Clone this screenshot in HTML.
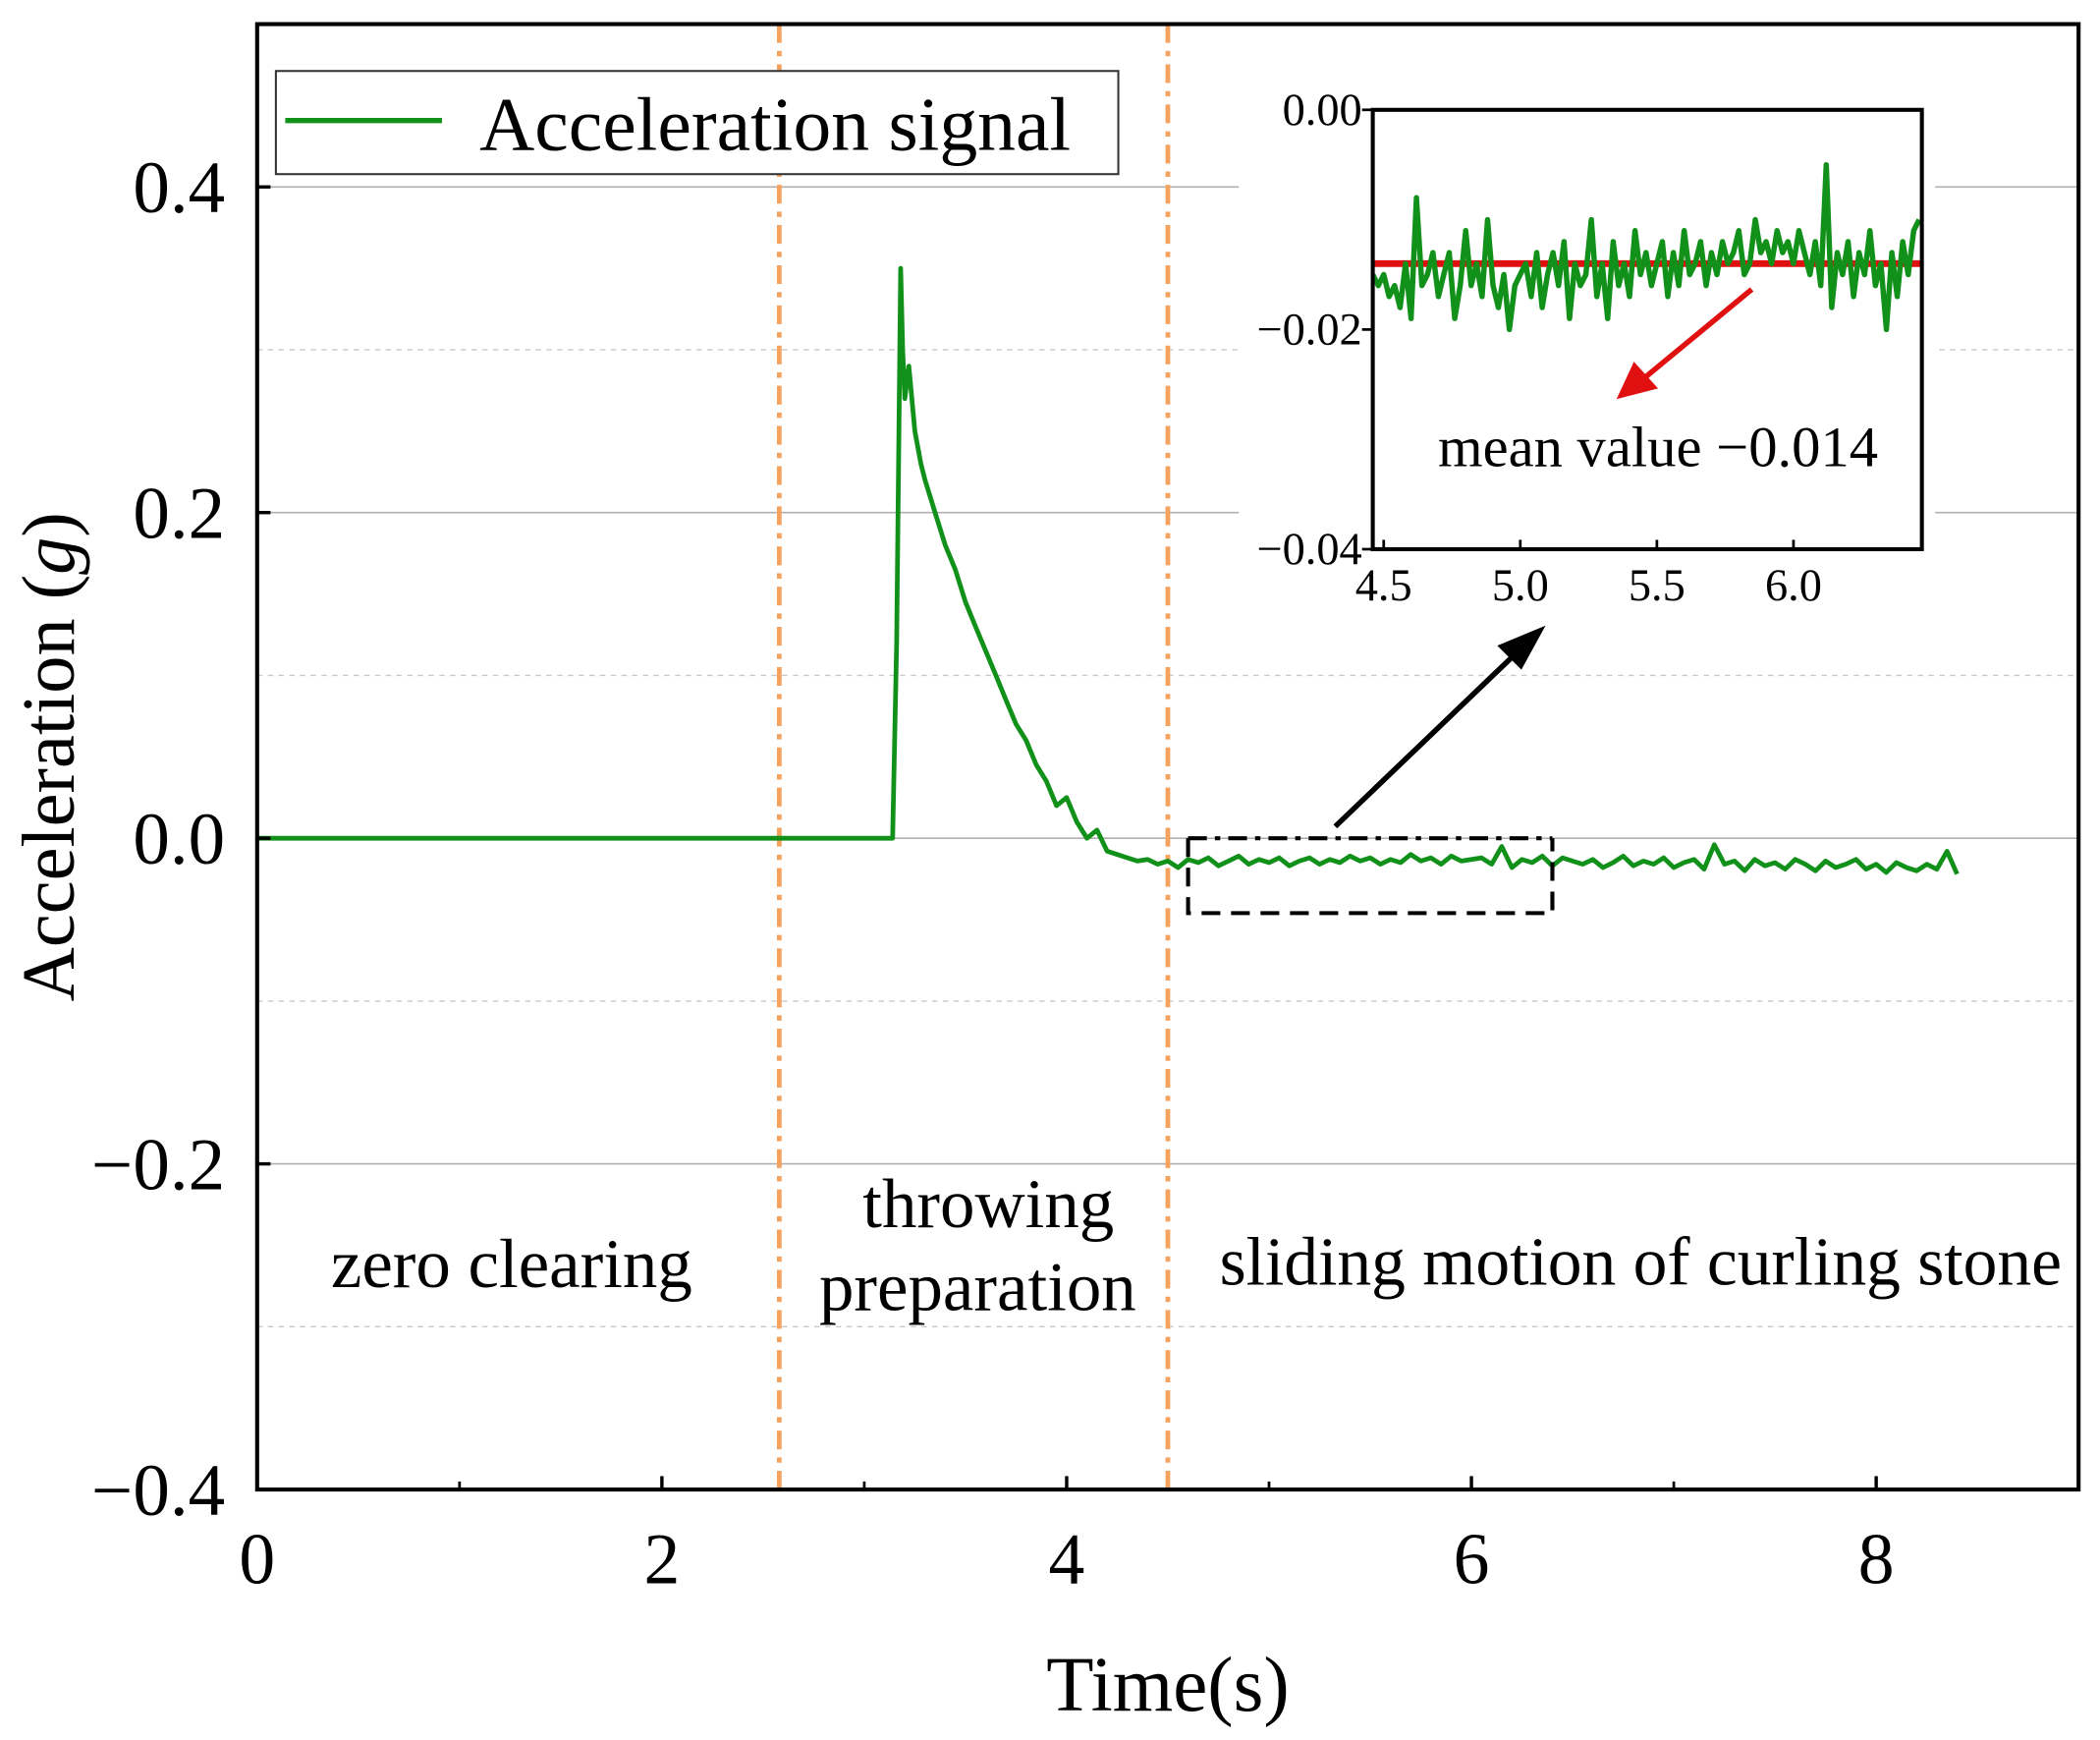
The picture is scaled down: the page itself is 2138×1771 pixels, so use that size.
<!DOCTYPE html>
<html><head><meta charset="utf-8"><style>
html,body{margin:0;padding:0;background:#fff}
svg{display:block}
text{font-family:"Liberation Serif",serif;fill:#000}
</style></head><body>
<svg id="chart" width="2138" height="1771" viewBox="0 0 1568 1299" preserveAspectRatio="none" xmlns="http://www.w3.org/2000/svg">
<g id="grid"></g>
<g id="main"></g>
<g id="inset"></g>
</svg>
<script>
const mainTimes=[0,0.5,1,1.5,2,2.5,3,3.14,3.16,3.18,3.19,3.2,3.22,3.25,3.28,3.3,3.35,3.4,3.45,3.5,3.55,3.6,3.65,3.7,3.75,3.8,3.85,3.9,3.95,4.0,4.05,4.1,4.15,4.2,4.25,4.3,4.35,
4.4,4.45,4.5,4.55,4.6,4.65,4.7,4.75,4.8,4.85,4.9,4.95,5.0,5.05,5.1,5.15,5.2,5.25,5.3,5.35,5.4,5.45,5.5,5.55,5.6,5.65,5.7,5.75,5.8,5.85,5.9,5.95,6.0,6.05,6.1,6.15,6.2,6.25,6.3,6.35,6.4,6.45,6.5,6.55,6.6,6.65,6.7,6.75,6.8,6.85,6.9,6.95,7.0,7.05,7.1,7.15,7.2,7.25,7.3,7.35,7.4,7.45,7.5,7.55,7.6,7.65,7.7,7.75,7.8,7.85,7.9,7.95,8.0,8.05,8.1,8.15,8.2,8.25,8.3,8.35,8.4,8.45];
const mainValues=[0,0,0,0,0,0,0,0,0.12,0.35,0.3,0.27,0.29,0.25,0.23,0.22,0.2,0.18,0.165,0.145,0.13,0.115,0.1,0.085,0.07,0.06,0.045,0.035,0.02,0.025,0.01,0.0,0.005,-0.008,-0.01,-0.012,-0.014,
-0.013,-0.016,-0.014,-0.018,-0.013,-0.015,-0.012,-0.017,-0.014,-0.011,-0.016,-0.013,-0.015,-0.012,-0.017,-0.014,-0.012,-0.016,-0.013,-0.015,-0.011,-0.014,-0.012,-0.016,-0.013,-0.015,-0.01,-0.014,-0.012,-0.016,-0.011,-0.014,-0.013,-0.012,-0.016,-0.005,-0.018,-0.013,-0.015,-0.011,-0.017,-0.012,-0.014,-0.016,-0.013,-0.018,-0.015,-0.011,-0.017,-0.014,-0.016,-0.012,-0.018,-0.015,-0.013,-0.019,-0.004,-0.016,-0.014,-0.02,-0.013,-0.017,-0.015,-0.019,-0.013,-0.016,-0.02,-0.014,-0.018,-0.016,-0.013,-0.019,-0.016,-0.021,-0.015,-0.018,-0.02,-0.016,-0.019,-0.008,-0.022];
const xTicks=[0,2,4,6,8];
const yTicks=[0.4,0.2,0.0,-0.2,-0.4];
const yTickLabels=["0.4","0.2","0.0","\u22120.2","\u22120.4"];
const minorY=[0.3,0.1,-0.1,-0.3];
const phaseBounds=[2.58,4.5];
const insetTimes=[4.46,4.48,4.5,4.52,4.54,4.56,4.58,4.6,4.62,4.64,4.66,4.68,4.7,4.72,4.74,4.76,4.78,4.8,4.82,4.84,4.86,4.88,4.9,4.92,4.94,4.96,4.98,5.0,5.02,5.04,5.06,5.08,5.1,5.12,5.14,5.16,5.18,5.2,5.22,5.24,5.26,5.28,5.3,5.32,5.34,5.36,5.38,5.4,5.42,5.44,5.46,5.48,5.5,5.52,5.54,5.56,5.58,5.6,5.62,5.64,5.66,5.68,5.7,5.72,5.74,5.76,5.78,5.8,5.82,5.84,5.86,5.88,5.9,5.92,5.94,5.96,5.98,6.0,6.02,6.04,6.06,6.08,6.1,6.12,6.14,6.16,6.18,6.2,6.22,6.24,6.26,6.28,6.3,6.32,6.34,6.36,6.38,6.4,6.42,6.44,6.46];
const insetValues=[-0.015,-0.016,-0.015,-0.017,-0.016,-0.018,-0.014,-0.019,-0.008,-0.016,-0.015,-0.013,-0.017,-0.015,-0.013,-0.019,-0.016,-0.011,-0.016,-0.014,-0.017,-0.01,-0.016,-0.018,-0.015,-0.02,-0.016,-0.015,-0.014,-0.017,-0.013,-0.018,-0.015,-0.013,-0.016,-0.012,-0.019,-0.014,-0.016,-0.015,-0.01,-0.017,-0.014,-0.019,-0.012,-0.016,-0.014,-0.017,-0.011,-0.015,-0.013,-0.016,-0.014,-0.012,-0.017,-0.013,-0.016,-0.011,-0.015,-0.014,-0.012,-0.016,-0.013,-0.015,-0.012,-0.014,-0.013,-0.011,-0.015,-0.014,-0.01,-0.013,-0.012,-0.014,-0.011,-0.013,-0.012,-0.014,-0.011,-0.013,-0.015,-0.012,-0.016,-0.005,-0.018,-0.013,-0.015,-0.012,-0.017,-0.013,-0.015,-0.011,-0.016,-0.014,-0.02,-0.013,-0.017,-0.012,-0.015,-0.011,-0.01];
const insetMean=-0.014;
const insetXTicks=[4.5,5.0,5.5,6.0];
const insetYTicks=[0,-0.02,-0.04];
const insetYLabels=["0.00","\u22120.02","\u22120.04"];

const NS="http://www.w3.org/2000/svg";
function mk(parent,tag,attrs,name,text){const e=document.createElementNS(NS,tag);for(const k in attrs)e.setAttribute(k,attrs[k]);


if(text!==undefined)e.textContent=text;parent.appendChild(e);return e;}
const L=192,R=1552,T=18,B=1112;
const xs=v=>L+(v-0)/9*(R-L);
const ys=v=>T+(0.5-v)/(0.5+0.4)*(B-T);
const grid=document.getElementById('grid'),main=document.getElementById('main'),ins=document.getElementById('inset');
yTicks.forEach(v=>{if(v>-0.4)mk(grid,'line',{x1:L,x2:R,y1:ys(v),y2:ys(v),stroke:'#b0b0b0','stroke-width':1.2},'major-gridline');});
minorY.forEach(v=>mk(grid,'line',{x1:L,x2:R,y1:ys(v),y2:ys(v),stroke:'#c8c8c8','stroke-width':1,'stroke-dasharray':'4 4'},'minor-gridline'));
phaseBounds.forEach(v=>mk(main,'line',{x1:xs(v),x2:xs(v),y1:T,y2:B,stroke:'#f5a25f','stroke-width':3.5,'stroke-dasharray':'14 6 4 6'},'phase-boundary'));
mk(main,'path',{d:mainTimes.map((t,i)=>(i?'L':'M')+xs(t).toFixed(1)+','+ys(mainValues[i]).toFixed(1)).join(''),fill:'none',stroke:'#11901a','stroke-width':3.5,'stroke-linejoin':'round'},'acceleration-line');
const bx1=xs(4.6),bx2=xs(4.6+1.8),by1=ys(0),by2=ys(-0.046);
mk(main,'line',{x1:bx1,x2:bx2,y1:by1,y2:by1,stroke:'#000','stroke-width':3,'stroke-dasharray':'14 6 4 6'},'zoom-box-top');
mk(main,'path',{d:`M${bx1},${by1}V${by2}H${bx2}V${by1}`,fill:'none',stroke:'#000','stroke-width':3,'stroke-dasharray':'14 8'},'zoom-box');
mk(main,'rect',{x:L,y:T,width:R-L,height:B-T,fill:'none',stroke:'#000','stroke-width':3},'plot-frame');
xTicks.forEach(v=>{mk(main,'line',{x1:xs(v),x2:xs(v),y1:B,y2:B-10,stroke:'#000','stroke-width':2.5},'x-tick');
mk(main,'text',{x:xs(v),y:B+70,'font-size':54,'text-anchor':'middle'},'x-tick-label',String(v));});
[1,3,5,7,9].forEach(v=>mk(main,'line',{x1:xs(v),x2:xs(v),y1:B,y2:B-6,stroke:'#000','stroke-width':2},'x-minor-tick'));
yTicks.forEach((v,i)=>{mk(main,'line',{x1:L,x2:L+10,y1:ys(v),y2:ys(v),stroke:'#000','stroke-width':2.5},'y-tick');
mk(main,'text',{x:L-24,y:ys(v)+19,'font-size':55,'text-anchor':'end'},'y-tick-label',yTickLabels[i]);});
mk(main,'text',{x:872,y:1277,'font-size':58,'text-anchor':'middle'},'x-axis-title','Time(s)');
const yt=mk(main,'text',{x:0,y:0,'font-size':56,'text-anchor':'middle',transform:'translate(55,565) rotate(-90)'},'y-axis-title','Acceleration (');
const it=document.createElementNS(NS,'tspan');it.setAttribute('font-style','italic');it.textContent='g';yt.appendChild(it);yt.appendChild(document.createTextNode(')'));
mk(main,'text',{x:382,y:961,'font-size':52,'text-anchor':'middle'},'label-zero-clearing','zero clearing');
mk(main,'text',{x:738,y:916,'font-size':52,'text-anchor':'middle'},'label-throwing','throwing');
mk(main,'text',{x:730,y:978,'font-size':52,'text-anchor':'middle'},'label-preparation','preparation');
mk(main,'text',{x:1225,y:959,'font-size':51,'text-anchor':'middle'},'label-sliding-motion','sliding motion of curling stone');
mk(main,'rect',{x:206,y:53,width:629,height:77,fill:'#fff',stroke:'#333','stroke-width':1.5},'legend-box');
mk(main,'line',{x1:213,x2:330,y1:90,y2:90,stroke:'#11901a','stroke-width':4},'legend-swatch');
mk(main,'text',{x:358,y:112,'font-size':57},'legend-label','Acceleration signal');
mk(main,'line',{x1:997,y1:617,x2:1140,y2:480,stroke:'#000','stroke-width':4},'zoom-arrow');
mk(main,'polygon',{points:'1154,467 1118,482 1136,500',fill:'#000'},'zoom-arrowhead');
const IL=1025,IR=1435,IT=82,IB=410;
const ixs=v=>IL+(v-4.46)/(6.47-4.46)*(IR-IL);
const iys=v=>IT+(0-v)/0.04*(IB-IT);
mk(ins,'rect',{x:925,y:60,width:520,height:395,fill:'#fff'},'inset-background');
mk(ins,'line',{x1:IL,x2:IR,y1:iys(insetMean),y2:iys(insetMean),stroke:'#e01010','stroke-width':5},'mean-line');
mk(ins,'path',{d:insetTimes.map((t,i)=>(i?'L':'M')+ixs(t).toFixed(1)+','+iys(insetValues[i]).toFixed(1)).join(''),fill:'none',stroke:'#11901a','stroke-width':4,'stroke-linejoin':'round'},'inset-line');
mk(ins,'rect',{x:IL,y:IT,width:IR-IL,height:IB-IT,fill:'none',stroke:'#000','stroke-width':3},'inset-frame');
insetXTicks.forEach(v=>{mk(ins,'line',{x1:ixs(v),x2:ixs(v),y1:IB,y2:IB-7,stroke:'#000','stroke-width':2},'inset-x-tick');
mk(ins,'text',{x:ixs(v),y:IB+38,'font-size':34,'text-anchor':'middle'},'inset-x-tick-label',v.toFixed(1));});
insetYTicks.forEach((v,i)=>{mk(ins,'line',{x1:IL-8,x2:IL,y1:iys(v),y2:iys(v),stroke:'#000','stroke-width':2},'inset-y-tick');
mk(ins,'text',{x:IL-8,y:iys(v)+11,'font-size':34,'text-anchor':'end'},'inset-y-tick-label',insetYLabels[i]);});
mk(ins,'line',{x1:1308,y1:216,x2:1228,y2:282,stroke:'#e01010','stroke-width':4},'mean-arrow');
mk(ins,'polygon',{points:'1207,298 1220,270 1238,290',fill:'#e01010'},'mean-arrowhead');
mk(ins,'text',{x:1238,y:348,'font-size':43,'text-anchor':'middle'},'mean-value-label','mean value \u22120.014');
</script>
</body></html>
